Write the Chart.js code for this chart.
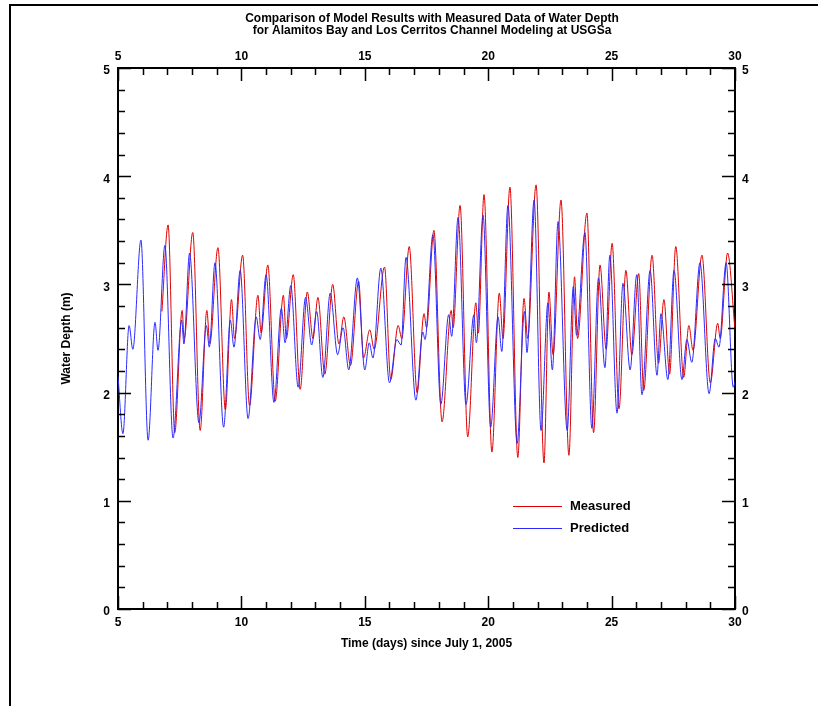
<!DOCTYPE html>
<html>
<head>
<meta charset="utf-8">
<title>Water Depth comparison</title>
<script src="https://cdn.jsdelivr.net/npm/chart.js@4.4.1/dist/chart.umd.min.js"></script>
<style>
  body { margin: 0; background: #fff; }
  canvas { display: block; }
</style>
</head>
<body>
<canvas id="chart" width="818" height="706"></canvas>
<script>
// extrema (time in days, depth in m)
const measuredT = [6.78, 7.03, 7.3, 7.6, 7.68, 8.03, 8.33, 8.6, 8.72, 9.05, 9.35, 9.6, 9.72, 10.05, 10.33,
  10.67, 10.8, 11.07, 11.37, 11.7, 11.82, 12.1, 12.38, 12.67, 12.9, 13.1, 13.38, 13.7, 13.95, 14.15,
  14.42, 14.75, 14.95, 15.2, 15.38, 15.8, 16.05, 16.35, 16.5, 16.8, 17.12, 17.4, 17.5, 17.8, 18.13,
  18.5, 18.58, 18.86, 19.17, 19.5, 19.6, 19.83, 20.15, 20.45, 20.6, 20.88, 21.2, 21.45, 21.6, 21.94,
  22.26, 22.46, 22.63, 22.95, 23.27, 23.5, 23.62, 24.0, 24.27, 24.53, 24.78, 25.02, 25.3, 25.58, 25.82,
  26.1, 26.3, 26.64, 26.9, 27.12, 27.35, 27.6, 27.92, 28.13, 28.3, 28.66, 29.0, 29.3, 29.4, 29.7, 30.0];
const measuredD = [2.75, 3.55, 1.63, 2.76, 2.5, 3.48, 1.65, 2.76, 2.45, 3.34, 1.84, 2.86, 2.5, 3.27, 1.88,
  2.9, 2.55, 3.18, 1.92, 2.9, 2.5, 3.09, 2.03, 2.93, 2.5, 2.88, 2.17, 3.0, 2.45, 2.7,
  2.25, 3.03, 2.32, 2.58, 2.4, 3.16, 2.12, 2.62, 2.5, 3.35, 2.0, 2.73, 2.6, 3.5, 1.73,
  2.76, 2.6, 3.73, 1.59, 2.83, 2.55, 3.83, 1.45, 2.92, 2.5, 3.9, 1.4, 2.87, 2.5, 3.92,
  1.35, 2.93, 2.35, 3.78, 1.42, 3.07, 2.5, 3.66, 1.63, 3.18, 2.4, 3.38, 1.85, 3.13, 2.35,
  3.1, 2.02, 3.27, 2.27, 2.86, 2.17, 3.35, 2.14, 2.62, 2.39, 3.27, 2.09, 2.64, 2.5, 3.29, 2.58];

const predictedT = [5.0, 5.2, 5.45, 5.6, 5.93, 6.22, 6.5, 6.62, 6.9, 7.23, 7.58, 7.67, 7.9, 8.28, 8.58,
  8.7, 8.93, 9.28, 9.55, 9.7, 9.95, 10.27, 10.6, 10.76, 11.0, 11.32, 11.62, 11.77, 12.0, 12.3,
  12.6, 12.85, 13.05, 13.3, 13.6, 13.9, 14.12, 14.35, 14.7, 15.0, 15.18, 15.33, 15.65, 16.0, 16.3,
  16.47, 16.67, 17.07, 17.35, 17.44, 17.76, 18.08, 18.4, 18.52, 18.78, 19.1, 19.42, 19.52, 19.79, 20.1,
  20.4, 20.55, 20.8, 21.17, 21.47, 21.57, 21.86, 22.14, 22.42, 22.6, 22.83, 23.2, 23.45, 23.58, 23.92,
  24.2, 24.47, 24.73, 24.93, 25.22, 25.46, 25.75, 26.02, 26.23, 26.56, 26.84, 27.0, 27.28, 27.53, 27.85,
  28.05, 28.25, 28.58, 28.95, 29.2, 29.35, 29.64, 29.93, 30.0];
const predictedD = [2.15, 1.62, 2.62, 2.4, 3.41, 1.56, 2.65, 2.39, 3.36, 1.58, 2.67, 2.45, 3.29, 1.72, 2.62,
  2.42, 3.2, 1.68, 2.67, 2.42, 3.13, 1.76, 2.7, 2.49, 3.09, 1.91, 2.78, 2.46, 2.99, 2.05,
  2.88, 2.44, 2.75, 2.14, 2.92, 2.35, 2.6, 2.21, 3.06, 2.21, 2.46, 2.32, 3.15, 2.09, 2.49,
  2.44, 3.25, 1.93, 2.56, 2.49, 3.46, 1.89, 2.72, 2.52, 3.62, 1.89, 2.72, 2.46, 3.64, 1.68,
  2.7, 2.38, 3.73, 1.53, 2.75, 2.37, 3.78, 1.65, 2.83, 2.21, 3.58, 1.65, 2.98, 2.53, 3.48,
  1.67, 3.06, 2.23, 3.27, 1.81, 3.01, 2.21, 3.09, 1.98, 3.13, 2.16, 2.73, 2.12, 3.13, 2.12,
  2.49, 2.28, 3.2, 1.99, 2.5, 2.42, 3.2, 2.05, 2.1];

const xTicks = [5, 10, 15, 20, 25, 30];
const yTicks = [0, 1, 2, 3, 4, 5];
const titleLines = ['Comparison of Model Results with Measured Data of Water Depth',
  'for Alamitos Bay and Los Cerritos Channel Modeling at USGSa'];

const RED = '#e00000';
const BLUE = '#2a2aff';
const FONT = { family: 'Liberation Sans, Arial, sans-serif', size: 12, weight: 'bold' };

const toPoints = (ts, ds) => ts.map((t, i) => ({ x: t, y: ds[i] }));

const frameAndTicks = {
  id: 'frameAndTicks',
  afterDraw(chart) {
    const c = chart.ctx;
    const a = chart.chartArea;
    const sx = chart.scales.x, sy = chart.scales.y;
    c.save();
    // outer frame
    c.strokeStyle = '#000';
    c.lineWidth = 2;
    c.beginPath();
    c.moveTo(10, 706); c.lineTo(10, 5); c.lineTo(818, 5);
    c.stroke();

    // inward ticks
    c.lineWidth = 1.5;
    c.beginPath();
    for (let v = xTicks[0]; v <= xTicks[xTicks.length - 1] + 1e-9; v += 1) {
      const px = Math.round(sx.getPixelForValue(v)) + 0.5;
      const len = Math.abs(v % 5) < 1e-6 ? 13 : 7;
      c.moveTo(px, a.bottom); c.lineTo(px, a.bottom - len);
      c.moveTo(px, a.top); c.lineTo(px, a.top + len);
    }
    for (let k = 0; k <= 25; k++) {
      const v = k * 0.2;
      const py = Math.round(sy.getPixelForValue(v)) + 0.5;
      const len = k % 5 === 0 ? 13 : 7;
      c.moveTo(a.left, py); c.lineTo(a.left + len, py);
      c.moveTo(a.right, py); c.lineTo(a.right - len, py);
    }
    c.stroke();

    // title
    c.fillStyle = '#000';
    c.textAlign = 'center';
    c.textBaseline = 'middle';
    c.font = 'bold 12px Liberation Sans, Arial, sans-serif';
    c.fillText(titleLines[0], 432, 19);
    c.fillText(titleLines[1], 432, 31);

    // legend inside plot
    const items = chart.data.datasets;
    c.textAlign = 'left';
    c.font = 'bold 13px Liberation Sans, Arial, sans-serif';
    items.forEach((ds, i) => {
      const y = 506 + i * 22;
      c.strokeStyle = ds.borderColor;
      c.lineWidth = 1;
      c.beginPath();
      c.moveTo(513, y + 0.5); c.lineTo(562, y + 0.5);
      c.stroke();
      c.fillStyle = '#000';
      c.fillText(ds.label, 570, y);
    });
    c.restore();
  }
};

const axisBase = {
  type: 'linear',
  grid: { drawOnChartArea: false, drawTicks: false },
  border: { color: '#000', width: 2 }
};

new Chart(document.getElementById('chart'), {
  type: 'line',
  data: {
    datasets: [
      {
        label: 'Measured',
        data: toPoints(measuredT, measuredD),
        borderColor: RED,
        borderWidth: 1,
        pointRadius: 0,
        cubicInterpolationMode: 'monotone',
        fill: false,
        order: 2
      },
      {
        label: 'Predicted',
        data: toPoints(predictedT, predictedD),
        borderColor: BLUE,
        borderWidth: 1,
        pointRadius: 0,
        cubicInterpolationMode: 'monotone',
        fill: false,
        order: 1
      }
    ]
  },
  options: {
    responsive: false,
    animation: false,
    layout: { padding: 0 },
    plugins: { legend: { display: false }, tooltip: { enabled: false } },
    scales: {
      x: {
        ...axisBase, position: 'bottom', min: 5, max: 30,
        ticks: { stepSize: 5, font: FONT, color: '#000', padding: 6, maxRotation: 0, autoSkip: false },
        title: { display: true, text: 'Time (days) since July 1, 2005', font: FONT, color: '#000', padding: { bottom: 55 } },
        afterFit: s => { s.height = 97; }
      },
      x2: {
        ...axisBase, position: 'top', min: 5, max: 30,
        ticks: { stepSize: 5, font: FONT, color: '#000', padding: 4, maxRotation: 0, autoSkip: false },
        afterFit: s => { s.height = 68; }
      },
      y: {
        ...axisBase, position: 'left', min: 0, max: 5,
        ticks: { stepSize: 1, font: FONT, color: '#000', padding: 8, labelOffset: 3 },
        title: { display: true, text: 'Water Depth (m)', font: FONT, color: '#000', padding: { top: 59 } },
        afterFit: s => { s.width = 118; }
      },
      y2: {
        ...axisBase, position: 'right', min: 0, max: 5,
        ticks: { stepSize: 1, font: FONT, color: '#000', padding: 7, labelOffset: 3 },
        afterFit: s => { s.width = 83; }
      }
    }
  },
  plugins: [frameAndTicks]
});
</script>
</body>
</html>
